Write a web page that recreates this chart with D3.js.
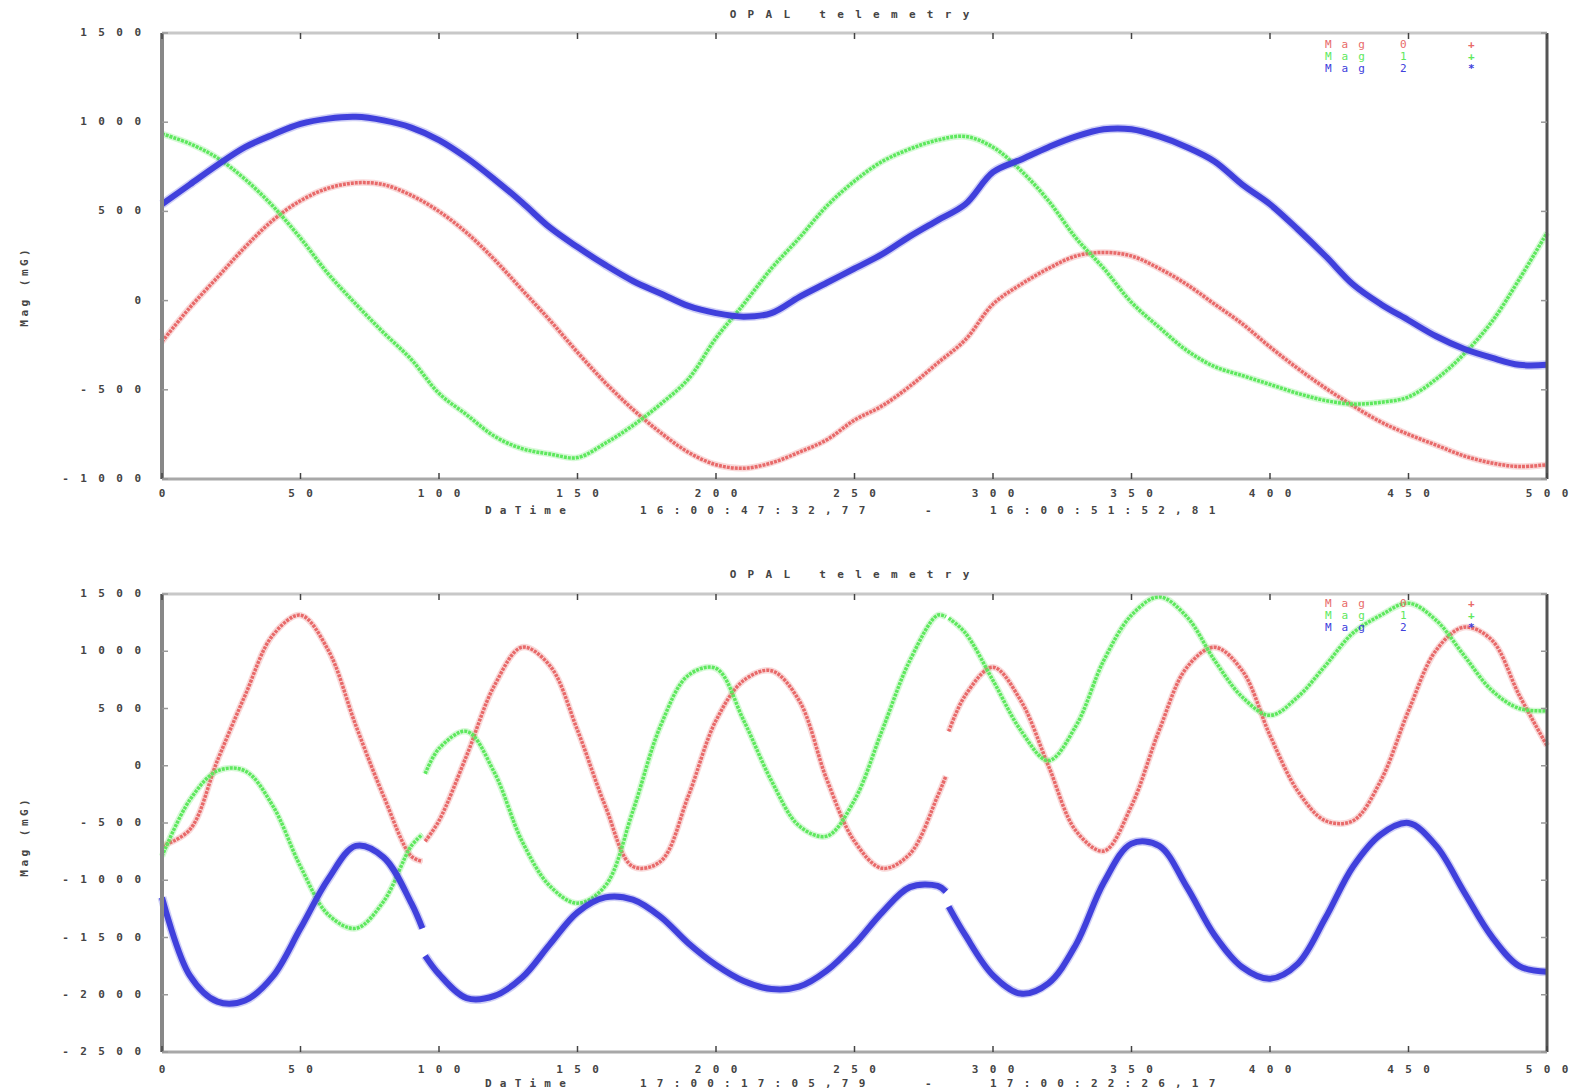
<!DOCTYPE html>
<html>
<head>
<meta charset="utf-8">
<script src="https://cdn.jsdelivr.net/npm/d3@7"></script>
<style>
  body { margin: 0; background: #fff; }
  svg { display: block; }
</style>
</head>
<body>
<div id="chart"></div>
<script>
// x samples for the upper plot
var xTop = [0,10,20,30,40,50,60,70,80,90,100,110,120,130,140,150,160,170,180,190,200,
  210,220,230,240,250,260,270,280,290,300,310,320,330,340,350,360,370,380,390,400,
  410,420,430,440,450,460,470,480,490,500];

var redTop = [-230,-40,130,300,450,560,630,660,650,590,500,380,230,60,-110,-290,-460,-610,-740,-850,-920,
  -940,-910,-850,-780,-670,-590,-480,-350,-220,-20,90,180,250,270,250,180,90,-20,-130,-260,
  -380,-490,-590,-680,-750,-810,-870,-910,-930,-920];
var greenTop = [935,880,800,680,530,350,150,-20,-180,-330,-520,-640,-760,-830,-860,-880,-800,-700,-580,-440,-210,
  -20,180,350,530,670,780,850,900,920,860,730,560,350,180,-10,-150,-280,-370,-420,-470,
  -520,-560,-580,-570,-540,-440,-300,-120,120,380];
var blueTop = [540,650,760,860,930,990,1020,1030,1010,970,900,800,680,550,410,300,200,110,40,-30,-70,
  -90,-70,20,100,180,260,360,450,540,720,790,860,920,960,960,920,860,780,650,540,
  400,250,90,-20,-110,-200,-270,-320,-360,-360];

// x samples for the lower plot, null marks a break in the recording
var xBottom = [0,10,20,30,40,50,60,70,80,90,94, null,
  95,100,110,120,130,140,150,160,170,180,190,200,210,220,230,240,250,260,270,280,283, null,
  284,290,300,310,320,330,340,350,360,370,380,390,400,410,420,430,440,450,460,470,480,490,500];

var redBottom = [-700,-560,45,615,1140,1315,1010,350,-265,-790,-835, null,
  -660,-480,90,700,1035,875,310,-350,-880,-835,-265,395,745,830,570,-120,-660,-895,-770,-265,-90, null,
  300,615,860,570,0,-570,-745,-350,310,860,1035,830,265,-220,-480,-480,-130,480,1010,1210,1100,615,175];
var greenBottom = [-790,-300,-45,-45,-350,-880,-1300,-1420,-1185,-700,-600, null,
  -70,150,300,-60,-660,-1050,-1200,-1050,-395,350,790,850,395,-130,-525,-615,-300,310,920,1315,1300, null,
  1290,1160,745,310,45,350,920,1315,1475,1300,920,600,440,600,875,1160,1315,1420,1270,965,660,500,480];
var blueBottom = [-1150,-1830,-2060,-2050,-1840,-1420,-990,-700,-800,-1200,-1420, null,
  -1660,-1820,-2030,-2010,-1850,-1560,-1280,-1150,-1170,-1320,-1550,-1740,-1880,-1950,-1930,-1790,-1560,-1280,-1060,-1050,-1100, null,
  -1230,-1480,-1830,-1990,-1900,-1560,-1020,-680,-700,-1060,-1480,-1760,-1860,-1730,-1330,-880,-600,-500,-700,-1100,-1490,-1750,-1800];

var xTicks = [0,50,100,150,200,250,300,350,400,450,500];
var yTicksTop = [-1000,-500,0,500,1000,1500];
var yTicksBottom = [-2500,-2000,-1500,-1000,-500,0,500,1000,1500];
var seriesNames = ["Mag", "Mag", "Mag"];
var seriesIds = ["0", "1", "2"];
var seriesColors = ["#e86a6a", "#5ee85e", "#4040dc"];
var seriesMarks = ["+", "+", "*"];

var W = 1578, H = 1091;
var font = "'DejaVu Sans Mono', monospace";

var svg = d3.select("#chart").append("svg")
  .attr("width", W)
  .attr("height", H);

// gnuplot-like spaced text; the last glyph gets no trailing spacing
function label(g, x, y, txt, anchor, spacing) {
  var sp = spacing == null ? 11.4 : spacing;
  var t = g.append("text")
    .attr("x", x)
    .attr("y", y)
    .attr("text-anchor", anchor)
    .attr("dominant-baseline", "middle")
    .style("font-family", font)
    .style("font-size", "11px")
    .style("font-weight", "bold")
    .style("fill", "#444");
  if (txt.length > 1) {
    t.append("tspan").style("letter-spacing", sp + "px").text(txt.slice(0, -1));
  }
  t.append("tspan").style("letter-spacing", "0px").text(txt.slice(-1));
  return t;
}

function drawPlot(cfg) {
  var g = svg.append("g");
  var x = d3.scaleLinear().domain([0, 500]).range([cfg.left, cfg.right]);
  var y = d3.scaleLinear().domain(cfg.yDomain).range([cfg.bottom, cfg.top]);

  // title
  label(g, (cfg.left + cfg.right) / 2 - 5, cfg.titleY, "OPAL telemetry", "middle", 11.3);

  // series
  var line = d3.line()
    .defined(function(d) { return d.x != null && d.y != null; })
    .x(function(d) { return x(d.x); })
    .y(function(d) { return y(d.y); })
    .curve(d3.curveCatmullRom);

  var widths = [3.5, 3.5, 6];
  cfg.series.forEach(function(vals, i) {
    var pts = cfg.xs.map(function(xv, j) { return { x: xv, y: vals[j] }; });
    g.append("path")
      .datum(pts)
      .attr("d", line)
      .attr("fill", "none")
      .attr("stroke", seriesColors[i])
      .attr("stroke-opacity", 0.25)
      .attr("stroke-width", widths[i] + 3);
    g.append("path")
      .datum(pts)
      .attr("d", line)
      .attr("fill", "none")
      .attr("stroke", seriesColors[i])
      .attr("stroke-width", widths[i])
      .attr("stroke-dasharray", i === 2 ? null : "3,1");
  });

  // borders
  g.append("line").attr("x1", cfg.left).attr("x2", cfg.right).attr("y1", cfg.top).attr("y2", cfg.top)
    .attr("stroke", "#c8c8c8").attr("stroke-width", 3);
  g.append("line").attr("x1", cfg.left).attr("x2", cfg.right).attr("y1", cfg.bottom).attr("y2", cfg.bottom)
    .attr("stroke", "#a8a8a8").attr("stroke-width", 3);
  g.append("line").attr("x1", cfg.right).attr("x2", cfg.right).attr("y1", cfg.top).attr("y2", cfg.bottom)
    .attr("stroke", "#555").attr("stroke-width", 3);
  g.append("line").attr("x1", cfg.left).attr("x2", cfg.left).attr("y1", cfg.top).attr("y2", cfg.bottom)
    .attr("stroke", "#888").attr("stroke-width", 4);

  // ticks
  xTicks.forEach(function(t) {
    g.append("line").attr("x1", x(t)).attr("x2", x(t)).attr("y1", cfg.bottom).attr("y2", cfg.bottom - 6)
      .attr("stroke", "#444").attr("stroke-width", 1.5);
    g.append("line").attr("x1", x(t)).attr("x2", x(t)).attr("y1", cfg.top).attr("y2", cfg.top + 6)
      .attr("stroke", "#444").attr("stroke-width", 1.5);
    label(g, x(t), cfg.xTickY, String(t), "middle");
  });
  cfg.yTicks.forEach(function(t) {
    g.append("line").attr("x1", cfg.left).attr("x2", cfg.left + 6).attr("y1", y(t)).attr("y2", y(t))
      .attr("stroke", "#999").attr("stroke-width", 1.5);
    g.append("line").attr("x1", cfg.right).attr("x2", cfg.right - 6).attr("y1", y(t)).attr("y2", y(t))
      .attr("stroke", "#999").attr("stroke-width", 1.5);
    label(g, 141, y(t), String(t), "end");
  });

  // axis labels
  label(g, 485, cfg.xLabelY, "DaTime", "start", 8.2);
  label(g, 640, cfg.xLabelY, cfg.timeFrom, "start", 10.2);
  label(g, 925, cfg.xLabelY, "-", "start", 10.2);
  label(g, 990, cfg.xLabelY, cfg.timeTo, "start", 10.2);

  var yl = label(g, 0, 0, "Mag (mG)", "middle", 3.5);
  yl.attr("transform", "translate(25," + cfg.yLabelY + ") rotate(-90)");

  // legend
  seriesNames.forEach(function(n, i) {
    var ly = cfg.legendY + i * cfg.legendStep;
    label(g, 1325, ly, n, "start", 10).style("fill", seriesColors[i]).style("font-weight", "normal");
    label(g, 1400, ly, seriesIds[i], "start", 0).style("fill", seriesColors[i]).style("font-weight", "normal");
    label(g, 1468, ly, seriesMarks[i], "start", 0).style("fill", seriesColors[i]);
  });
}

drawPlot({
  left: 162, right: 1547, top: 33, bottom: 479,
  yDomain: [-1000, 1500], yTicks: yTicksTop,
  xs: xTop, series: [redTop, greenTop, blueTop],
  titleY: 15, xTickY: 494, xLabelY: 511, yLabelY: 288,
  timeFrom: "16:00:47:32,77", timeTo: "16:00:51:52,81",
  legendY: 45, legendStep: 12
});

drawPlot({
  left: 162, right: 1547, top: 594, bottom: 1052,
  yDomain: [-2500, 1500], yTicks: yTicksBottom,
  xs: xBottom, series: [redBottom, greenBottom, blueBottom],
  titleY: 575, xTickY: 1070, xLabelY: 1084, yLabelY: 838,
  timeFrom: "17:00:17:05,79", timeTo: "17:00:22:26,17",
  legendY: 604, legendStep: 12
});
</script>
</body>
</html>
